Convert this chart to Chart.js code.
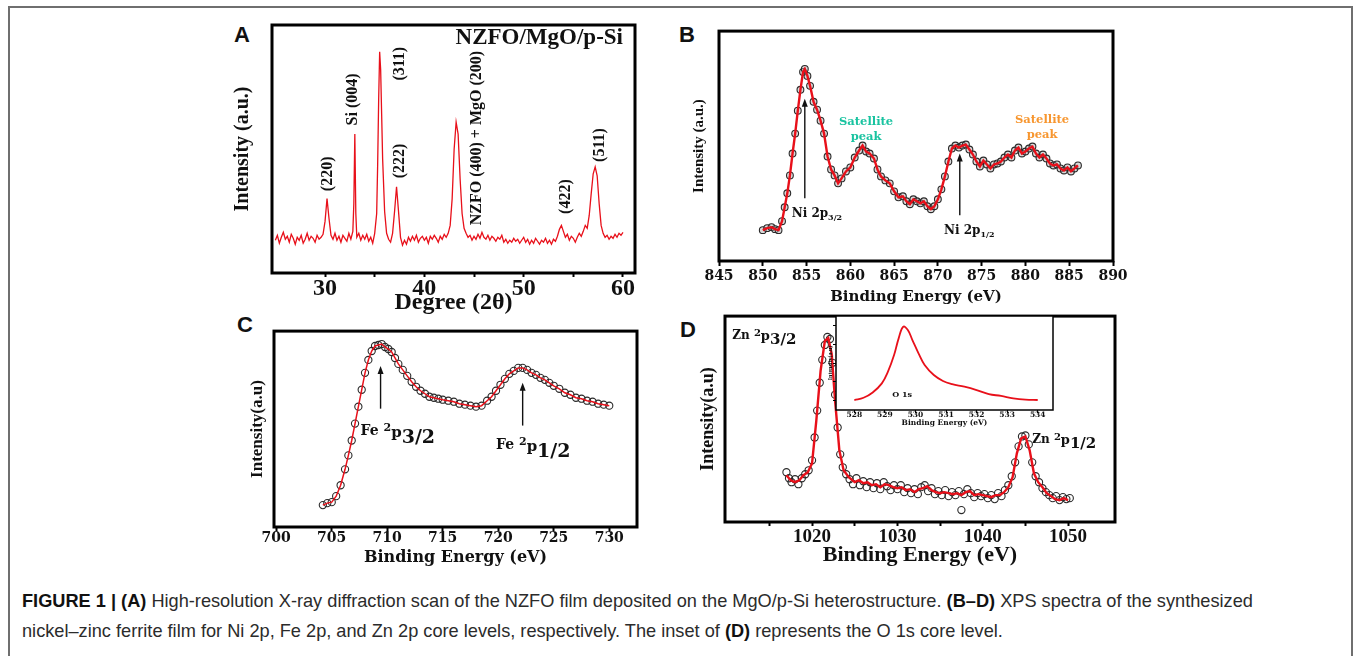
<!DOCTYPE html>
<html>
<head>
<meta charset="utf-8">
<title>NZFO XRD and XPS</title>
<script src="https://cdn.jsdelivr.net/npm/chart.js@4.4.1/dist/chart.umd.min.js"></script>
<style>
  html, body { margin: 0; padding: 0; background: #fff; }
  body { width: 1354px; height: 656px; position: relative; overflow: hidden; }
  .frame { position: absolute; left: 8px; top: 6px; width: 1345px; height: 720px;
           border: 2px solid #6f6f6f; box-sizing: border-box; }
  .panel { position: absolute; }
  .letter { position: absolute; font: bold 22px/1 "Liberation Sans", Arial, sans-serif; color: #111; }
  .caption { position: absolute; left: 22px; top: 586px; width: 1325px; white-space: nowrap;
             font: 18.2px/30px "Liberation Sans", Arial, sans-serif; color: #2b2b2b; }
  .caption b { color: #111; }
</style>
</head>
<body>
<div class="frame"></div>
<div class="letter" style="left:234px;top:24px">A</div>
<div class="letter" style="left:679px;top:24px">B</div>
<div class="letter" style="left:237px;top:314px">C</div>
<div class="letter" style="left:680px;top:319px">D</div>
<div class="caption"><b>FIGURE 1 | (A)</b> High-resolution X-ray diffraction scan of the NZFO film deposited on the MgO/p-Si heterostructure. <b>(B–D)</b> XPS spectra of the synthesized<br>nickel–zinc ferrite film for Ni 2p, Fe 2p, and Zn 2p core levels, respectively. The inset of <b>(D)</b> represents the O 1s core level.</div>

<script>
// (A) XRD scan, 2-theta in degrees vs counts (a.u.)
const xrdTheta = [
  25.0, 25.2, 25.4, 25.6, 25.8, 26.0, 26.2, 26.4, 26.6, 26.8,
  27.0, 27.2, 27.4, 27.6, 27.8, 28.0, 28.2, 28.4, 28.6, 28.8,
  29.0, 29.2, 29.4, 29.6, 29.8, 30.0, 30.2, 30.4, 30.6, 30.8,
  31.0, 31.2, 31.4, 31.6, 31.8, 32.0, 32.2, 32.4, 32.6, 32.8,
  32.9, 33.0, 33.1, 33.2, 33.4, 33.6, 33.8, 34.0, 34.2, 34.4,
  34.6, 34.8, 35.0, 35.2, 35.3, 35.4, 35.5, 35.6, 35.7, 35.8,
  36.0, 36.2, 36.4, 36.6, 36.8, 37.0, 37.2, 37.4, 37.6, 37.8,
  38.0, 38.2, 38.4, 38.6, 38.8, 39.0, 39.2, 39.4, 39.6, 39.8,
  40.0, 40.2, 40.4, 40.6, 40.8, 41.0, 41.2, 41.4, 41.6, 41.8,
  42.0, 42.2, 42.4, 42.6, 42.8, 43.0, 43.2, 43.4, 43.6, 43.8,
  44.0, 44.2, 44.4, 44.6, 44.8, 45.0, 45.2, 45.4, 45.6, 45.8,
  46.0, 46.2, 46.4, 46.6, 46.8, 47.0, 47.2, 47.4, 47.6, 47.8,
  48.0, 48.2, 48.4, 48.6, 48.8, 49.0, 49.2, 49.4, 49.6, 49.8,
  50.0, 50.2, 50.4, 50.6, 50.8, 51.0, 51.2, 51.4, 51.6, 51.8,
  52.0, 52.2, 52.4, 52.6, 52.8, 53.0, 53.2, 53.4, 53.6, 53.8,
  54.0, 54.2, 54.4, 54.6, 54.8, 55.0, 55.2, 55.4, 55.6, 55.8,
  56.0, 56.2, 56.4, 56.6, 56.8, 57.0, 57.2, 57.4, 57.6, 57.8,
  58.0, 58.2, 58.4, 58.6, 58.8, 59.0, 59.2, 59.4, 59.6, 59.8,
  60.0
];
const xrdCounts = [
  33, 38, 30, 36, 41, 34, 37, 31, 39, 35,
  29, 36, 33, 38, 30, 34, 40, 33, 37, 35,
  31, 38, 34, 36, 39, 52, 75, 55, 38, 34,
  40, 33, 37, 31, 38, 35, 32, 40, 34, 42,
  70, 140, 60, 36, 40, 33, 38, 34, 39, 32,
  36, 30, 40, 60, 110, 175, 223, 205, 160, 115,
  62, 40, 34, 31, 40, 62, 87, 62, 36, 28,
  33, 29, 36, 32, 37, 33, 38, 31, 35, 37,
  33, 36, 30, 37, 34, 38, 35, 31, 37, 34,
  39, 36, 40, 48, 75, 125, 152, 140, 95, 60,
  45, 40, 36, 38, 33, 37, 34, 39, 35, 41,
  36, 34, 38, 33, 37, 35, 32, 36, 34, 38,
  31, 34, 30, 33, 31, 35, 32, 34, 30, 33,
  36, 31, 34, 29, 33, 30, 35, 32, 29, 33,
  31, 35, 30, 33, 29, 34, 32, 37, 44, 48,
  42, 36, 39, 33, 37, 35, 31, 36, 40, 37,
  42, 48, 45, 58, 80, 100, 107, 98, 70, 48,
  40, 36, 38, 34, 37, 35, 39, 36, 40, 38,
  41
];
const xrdPeakLabels = ['(220)', 'Si (004)', '(311)', '(222)', 'NZFO (400) + MgO (200)', '(422)', '(511)'];
const xrdLabelTheta = [30.3, 32.8, 37.55, 37.55, 45.3, 54.2, 57.7];
const xrdLabelLevel = [100, 175, 211, 113, 136, 77, 129];

// (B) Ni 2p spectrum
const niEnergy = [
  850.0, 850.5, 851.0, 851.4, 851.8, 852.2, 852.5, 852.8, 853.1, 853.4,
  853.7, 854.0, 854.3, 854.6, 854.8, 855.1, 855.4, 855.8, 856.2, 856.6,
  857.0, 857.4, 857.8, 858.2, 858.6, 859.0, 859.5, 860.0, 860.5, 861.0,
  861.4, 861.8, 862.2, 862.7, 863.1, 863.5, 864.0, 864.5, 865.0, 865.5,
  866.0, 866.4, 866.8, 867.2, 867.6, 868.0, 868.4, 868.8, 869.2, 869.6,
  870.0, 870.4, 870.8, 871.2, 871.6, 872.0, 872.4, 872.8, 873.2, 873.6,
  874.0, 874.4, 874.8, 875.2, 875.6, 876.0, 876.4, 876.8, 877.2, 877.6,
  878.0, 878.4, 878.8, 879.2, 879.6, 880.0, 880.4, 880.8, 881.2, 881.6,
  882.0, 882.4, 882.8, 883.2, 883.6, 884.0, 884.4, 884.8, 885.2, 885.6,
  886.0
];
const niCounts = [
  31, 33, 34, 32, 31, 40, 54, 68, 86, 108,
  128, 151, 172, 190, 193, 186, 176, 160, 152, 141,
  128, 105, 92, 86, 78, 83, 90, 94, 104, 111,
  116, 110, 108, 103, 92, 85, 81, 78, 70, 64,
  65, 60, 57, 62, 60, 58, 60, 55, 52, 55,
  62, 72, 85, 100, 113, 116, 114, 116, 117, 112,
  107, 100, 95, 101, 97, 93, 97, 98, 100, 104,
  107, 104, 111, 114, 108, 110, 113, 115, 108, 104,
  107, 103, 98, 96, 97, 93, 91, 94, 90, 93,
  96
];

// (C) Fe 2p spectrum
const feEnergy = [
  704.2, 704.6, 705.0, 705.4, 705.8, 706.2, 706.5, 706.8, 707.1, 707.4,
  707.7, 708.0, 708.3, 708.6, 708.9, 709.2, 709.5, 709.8, 710.1, 710.4,
  710.7, 711.0, 711.4, 711.8, 712.2, 712.6, 713.0, 713.4, 713.8, 714.2,
  714.6, 715.0, 715.5, 716.0, 716.5, 717.0, 717.5, 718.0, 718.5, 719.0,
  719.4, 719.8, 720.2, 720.6, 721.0, 721.4, 721.8, 722.2, 722.6, 723.0,
  723.4, 723.8, 724.2, 724.6, 725.0, 725.5, 726.0, 726.5, 727.0, 727.5,
  728.0, 728.5, 729.0, 729.5, 730.0
];
const feCounts = [
  22, 24, 25, 31, 42, 58, 72, 87, 104, 121,
  138, 155, 168, 177, 182, 183, 184, 181, 179, 176,
  170, 164, 158, 152, 146, 141, 137, 134, 131, 130,
  129, 128, 127, 126, 124, 123, 122, 121, 122, 127,
  131, 137, 143, 149, 154, 157, 160, 160, 158, 155,
  153, 150, 148, 145, 142, 139, 135, 133, 130, 129,
  127, 126, 124, 123, 122
];

// (D) Zn 2p spectrum: measured points and fitted envelope
const znEnergy = [
  1017.0, 1017.3, 1017.6, 1018.0, 1018.4, 1018.8, 1019.2, 1019.6, 1020.0, 1020.3,
  1020.6, 1020.9, 1021.2, 1021.5, 1021.8, 1022.1, 1022.4, 1022.7, 1023.0, 1023.3,
  1023.6, 1024.0, 1024.4, 1024.8, 1025.2, 1025.6, 1026.0, 1026.4, 1026.8, 1027.2,
  1027.6, 1028.0, 1028.4, 1028.8, 1029.2, 1029.6, 1030.0, 1030.4, 1030.8, 1031.2,
  1031.6, 1032.0, 1032.4, 1032.8, 1033.2, 1033.6, 1034.0, 1034.4, 1034.8, 1035.2,
  1035.6, 1036.0, 1036.4, 1036.8, 1037.2, 1037.5, 1037.8, 1038.2, 1038.6, 1039.0,
  1039.4, 1039.8, 1040.2, 1040.6, 1041.0, 1041.4, 1041.8, 1042.2, 1042.6, 1043.0,
  1043.4, 1043.8, 1044.2, 1044.6, 1045.0, 1045.4, 1045.8, 1046.2, 1046.6, 1047.0,
  1047.4, 1047.8, 1048.2, 1048.6, 1049.0, 1049.4, 1049.8, 1050.2
];
const znCounts = [
  50, 44, 40, 43, 38, 44, 48, 52, 62, 85,
  112, 140, 163, 178, 186, 184, 160, 128, 95, 68,
  55, 48, 43, 38, 44, 37, 41, 35, 40, 34,
  39, 33, 40, 36, 32, 37, 33, 37, 30, 34,
  29, 33, 28, 35, 37, 31, 34, 28, 31, 27,
  32, 26, 30, 27, 31, 12, 28, 33, 29, 25,
  29, 26, 28, 24, 27, 23, 29, 26, 32, 37,
  46, 60, 76, 86, 87, 78, 60, 46, 40, 34,
  30, 27, 24, 26, 22, 25, 23, 24
];
const znFitEnergy = [
  1017.0, 1017.5, 1018.0, 1018.5, 1019.0, 1019.5, 1020.0, 1020.5, 1021.0, 1021.5,
  1021.9, 1022.3, 1022.7, 1023.2, 1023.7, 1024.3, 1025.0, 1025.5, 1026.0, 1026.5,
  1027.0, 1027.5, 1028.0, 1028.5, 1029.0, 1029.5, 1030.0, 1030.5, 1031.0, 1031.5,
  1032.0, 1032.5, 1033.0, 1033.5, 1034.0, 1034.5, 1035.0, 1035.5, 1036.0, 1036.5,
  1037.0, 1037.5, 1038.0, 1038.5, 1039.0, 1039.5, 1040.0, 1040.5, 1041.0, 1041.5,
  1042.0, 1042.5, 1043.0, 1043.5, 1044.0, 1044.5, 1045.0, 1045.5, 1046.0, 1046.5,
  1047.0, 1047.5, 1048.0, 1048.5, 1049.0, 1049.5, 1050.0
];
const znFitCounts = [
  47, 42, 40, 42, 47, 50, 59, 102, 152, 182,
  185, 169, 122, 72, 52, 45, 40, 42, 39, 40,
  37, 38, 35, 38, 37, 35, 34, 35, 32, 33,
  30, 33, 34, 36, 32, 30, 29, 30, 29, 28,
  29, 27, 30, 31, 27, 28, 27, 26, 25, 27,
  27, 30, 35, 45, 69, 84, 86, 72, 49, 40,
  35, 29, 26, 23, 22, 24, 22
];

// (D) inset: O 1s
const oEnergy = [528.0, 528.3, 528.6, 528.9, 529.1, 529.3, 529.45, 529.6, 529.75, 529.9,
                 530.1, 530.3, 530.6, 530.9, 531.2, 531.6, 532.0, 532.4, 532.8, 533.2, 533.6, 534.0];
const oCounts = [0.0, 0.12, 0.41, 0.90, 1.53, 2.43, 3.33, 3.96, 3.78, 3.24,
                 2.52, 1.89, 1.35, 1.03, 0.86, 0.72, 0.54, 0.32, 0.22, 0.09, 0.02, 0.0];

const xrdTicks = [30, 35, 40, 45, 50, 55, 60];
const xrdTickLabels = [30, 40, 50, 60];
const niTicks = [845, 850, 855, 860, 865, 870, 875, 880, 885, 890];
const feTicks = [700, 705, 710, 715, 720, 725, 730];
const znTicks = [1015, 1020, 1025, 1030, 1035, 1040, 1045, 1050];
const znTickLabels = [1020, 1030, 1040, 1050];
const oTicks = [528, 529, 530, 531, 532, 533, 534];
const oLevelTicks = [0, 1, 2, 3, 4];

const SERIF = '"Liberation Serif", "Times New Roman", serif';
const WIDE = '"DejaVu Serif", serif';
const RED = '#e8101a';

function pts(xs, ys) {
  return xs.map((x, i) => ({ x: x, y: ys[i] }));
}

function lineSet(xs, ys, width, tension) {
  return { data: pts(xs, ys), showLine: true, borderColor: RED, borderWidth: width,
           pointRadius: 0, tension: tension || 0, order: 0 };
}

function circleSet(xs, ys, r, fill) {
  return { data: pts(xs, ys), showLine: false, pointRadius: r, pointBorderWidth: 1.1,
           pointBorderColor: '#2a2a2a', pointBackgroundColor: fill || 'rgba(255,255,255,0)', order: 1 };
}

// heavy frame round the plot area; the inset also blanks its area first
function framePlugin(width, blank) {
  return {
    id: 'frame',
    beforeDraw(chart) {
      if (!blank) return;
      const a = chart.chartArea;
      chart.ctx.save();
      chart.ctx.fillStyle = '#fff';
      chart.ctx.fillRect(a.left, a.top, a.right - a.left, a.bottom - a.top);
      chart.ctx.restore();
    },
    afterDraw(chart) {
      const a = chart.chartArea, ctx = chart.ctx;
      ctx.save();
      ctx.strokeStyle = '#000';
      ctx.lineWidth = width;
      ctx.strokeRect(a.left, a.top, a.right - a.left, a.bottom - a.top);
      ctx.restore();
    }
  };
}

// labels and arrows placed in data coordinates
function notesPlugin(items) {
  return {
    id: 'notes',
    afterDraw(chart) {
      const sx = chart.scales.x, sy = chart.scales.y, ctx = chart.ctx;
      ctx.save();
      for (const it of items) {
        const px = sx.getPixelForValue(it.x), py = sy.getPixelForValue(it.y);
        ctx.fillStyle = it.color || '#111';
        ctx.strokeStyle = it.color || '#111';
        if (it.kind === 'arrow') {
          const top = sy.getPixelForValue(it.to);
          ctx.lineWidth = 1.4;
          ctx.beginPath();
          ctx.moveTo(px, py);
          ctx.lineTo(px, top + 6);
          ctx.stroke();
          ctx.beginPath();
          ctx.moveTo(px, top);
          ctx.lineTo(px - 3, top + 8);
          ctx.lineTo(px + 3, top + 8);
          ctx.closePath();
          ctx.fill();
        } else if (it.kind === 'vtext') {
          ctx.save();
          ctx.translate(px, py);
          ctx.rotate(-Math.PI / 2);
          ctx.font = 'bold ' + it.size + 'px ' + it.family;
          ctx.textAlign = 'center';
          ctx.textBaseline = 'middle';
          ctx.fillText(it.text, 0, 0);
          ctx.restore();
        } else if (it.kind === 'center') {
          ctx.font = 'bold ' + it.size + 'px ' + it.family;
          ctx.textAlign = it.align || 'center';
          ctx.textBaseline = 'middle';
          it.lines.forEach((t, i) => ctx.fillText(t, px, py + i * it.gap));
        } else {
          // run of text pieces on a shared baseline (sub/superscripts via dy)
          ctx.textAlign = 'left';
          ctx.textBaseline = 'alphabetic';
          let cx = px;
          for (const p of it.parts) {
            ctx.font = 'bold ' + p.size + 'px ' + it.family;
            ctx.fillText(p.t, cx, py + (p.dy || 0));
            cx += ctx.measureText(p.t).width;
          }
        }
      }
      ctx.restore();
    }
  };
}

function makePanel(cfg) {
  const a = cfg.area, p = cfg.pad;
  const holder = document.createElement('div');
  holder.className = 'panel';
  holder.style.left = (a.left - p.left) + 'px';
  holder.style.top = (a.top - p.top) + 'px';
  holder.style.width = (a.right - a.left + p.left + p.right) + 'px';
  holder.style.height = (a.bottom - a.top + p.top + p.bottom) + 'px';
  const canvas = document.createElement('canvas');
  holder.appendChild(canvas);
  document.body.appendChild(holder);

  const X = cfg.x, Y = cfg.y;
  const yScale = {
    type: 'linear', min: Y.min, max: Y.max,
    afterFit: s => { s.width = p.left; s.paddingTop = 0; s.paddingBottom = 0; },
    border: { display: false },
    grid: { display: false },
    ticks: { display: false },
    title: { display: true, text: Y.title, color: '#111', font: Y.font, padding: { top: Y.titlePad, bottom: 0 } }
  };
  if (Y.ticks) {
    yScale.afterBuildTicks = s => { s.ticks = Y.ticks.map(v => ({ value: v })); };
    yScale.grid = { display: true, drawOnChartArea: false, drawTicks: true, tickLength: 3, tickWidth: 1, tickColor: '#000', color: '#000' };
  }

  return new Chart(canvas, {
    type: 'scatter',
    data: { datasets: cfg.datasets },
    options: {
      responsive: true,
      maintainAspectRatio: false,
      animation: false,
      events: [],
      layout: { padding: { left: 0, top: p.top, right: p.right, bottom: 0 } },
      plugins: { legend: { display: false }, tooltip: { enabled: false } },
      scales: {
        x: {
          type: 'linear', position: 'bottom', min: X.min, max: X.max,
          afterBuildTicks: s => { s.ticks = X.ticks.map(v => ({ value: v })); },
          afterFit: s => { s.height = p.bottom; s.paddingLeft = 0; s.paddingRight = 0; },
          border: { display: false },
          grid: { display: true, drawOnChartArea: false, drawTicks: true, tickLength: X.tickLength,
                  tickWidth: X.tickWidth || 2, tickColor: '#000', color: '#000' },
          ticks: { autoSkip: false, maxRotation: 0, minRotation: 0, padding: X.labelPad, color: '#111', font: X.font,
                   callback: v => (X.labels.indexOf(v) >= 0 ? String(v) : '') },
          title: { display: true, text: X.title, color: '#111', font: X.titleFont, padding: { top: 0, bottom: X.titlePad } }
        },
        y: yScale
      }
    },
    plugins: [framePlugin(cfg.frame, cfg.blank), notesPlugin(cfg.notes || [])]
  });
}

// ---- (A) XRD ----
makePanel({
  area: { left: 272, top: 25, right: 635, bottom: 273 },
  pad: { left: 44, top: 4, right: 10, bottom: 44 },
  frame: 3,
  x: { min: 24.66, max: 61.21, ticks: xrdTicks, labels: xrdTickLabels, tickLength: 4, labelPad: -3,
       font: { family: SERIF, size: 24, weight: 'bold' }, title: 'Degree (2θ)',
       titleFont: { family: SERIF, size: 24, weight: 'bold' }, titlePad: 0 },
  y: { min: 0, max: 250, title: 'Intensity (a.u.)', font: { family: SERIF, size: 20, weight: 'bold' }, titlePad: 3 },
  datasets: [lineSet(xrdTheta, xrdCounts, 1.3)],
  notes: xrdPeakLabels.map((t, i) => ({ kind: 'vtext', x: xrdLabelTheta[i], y: xrdLabelLevel[i], text: t, size: 16, family: SERIF }))
    .concat([{ kind: 'center', x: 60.0, y: 237, lines: ['NZFO/MgO/p-Si'], gap: 0, size: 23, family: SERIF, align: 'right' }])
});

// ---- (B) Ni 2p ----
makePanel({
  area: { left: 719, top: 30, right: 1113, bottom: 261 },
  pad: { left: 30, top: 4, right: 22, bottom: 46 },
  frame: 3,
  x: { min: 845, max: 890, ticks: niTicks, labels: niTicks, tickLength: 5, labelPad: 1.6,
       font: { family: WIDE, size: 14, weight: 'bold' }, title: 'Binding Energy (eV)',
       titleFont: { family: WIDE, size: 15, weight: 'bold' }, titlePad: 1 },
  y: { min: 0, max: 231, title: 'Intensity (a.u.)', font: { family: SERIF, size: 15, weight: 'bold' }, titlePad: 1 },
  datasets: [lineSet(niEnergy, niCounts, 2.4), circleSet(niEnergy, niCounts, 3.4, 'rgba(170,170,170,0.45)')],
  notes: [
    { kind: 'center', x: 861.8, y: 140, lines: ['Satellite', 'peak'], gap: 15, size: 11.5, family: WIDE, color: '#19c3a0' },
    { kind: 'center', x: 881.9, y: 142, lines: ['Satellite', 'peak'], gap: 15, size: 11.5, family: WIDE, color: '#f7962f' },
    { kind: 'arrow', x: 854.8, y: 63, to: 163 },
    { kind: 'arrow', x: 872.5, y: 46, to: 108 },
    { kind: 'rich', x: 853.3, y: 44, family: WIDE, parts: [{ t: 'Ni 2p', size: 12 }, { t: '3/2', size: 8, dy: 3 }] },
    { kind: 'rich', x: 870.7, y: 27, family: WIDE, parts: [{ t: 'Ni 2p', size: 12 }, { t: '1/2', size: 8, dy: 3 }] }
  ]
});

// ---- (C) Fe 2p ----
makePanel({
  area: { left: 274, top: 330, right: 637, bottom: 527 },
  pad: { left: 28, top: 4, right: 10, bottom: 42 },
  frame: 3,
  x: { min: 699.8, max: 732.5, ticks: feTicks, labels: feTicks, tickLength: 4, labelPad: -1.4,
       font: { family: WIDE, size: 14, weight: 'bold' }, title: 'Binding Energy (eV)',
       titleFont: { family: WIDE, size: 16, weight: 'bold' }, titlePad: 1.4 },
  y: { min: 0, max: 197, title: 'Intensity(a.u)', font: { family: SERIF, size: 17, weight: 'bold' }, titlePad: 1.8 },
  datasets: [lineSet(feEnergy, feCounts, 1.5), circleSet(feEnergy, feCounts, 3.6)],
  notes: [
    { kind: 'arrow', x: 709.4, y: 119, to: 162 },
    { kind: 'arrow', x: 722.2, y: 102, to: 145 },
    { kind: 'rich', x: 707.6, y: 93, family: WIDE, parts: [{ t: 'Fe ', size: 14 }, { t: '2', size: 11, dy: -4 }, { t: 'p', size: 15, dy: 2 }, { t: '3/2', size: 19, dy: 8 }] },
    { kind: 'rich', x: 719.8, y: 78, family: WIDE, parts: [{ t: 'Fe ', size: 14 }, { t: '2', size: 11, dy: -4 }, { t: 'p', size: 15, dy: 2 }, { t: '1/2', size: 19, dy: 8 }] }
  ]
});

// ---- (D) Zn 2p ----
makePanel({
  area: { left: 725, top: 315, right: 1115, bottom: 522 },
  pad: { left: 28, top: 4, right: 10, bottom: 47 },
  frame: 3,
  x: { min: 1009.8, max: 1055.5, ticks: znTicks, labels: znTickLabels, tickLength: 4, labelPad: 0,
       font: { family: SERIF, size: 19, weight: 'bold' }, title: 'Binding Energy (eV)',
       titleFont: { family: SERIF, size: 22, weight: 'bold' }, titlePad: 0.8 },
  y: { min: 0, max: 207, title: 'Intensity(a.u)', font: { family: SERIF, size: 18, weight: 'bold' }, titlePad: 0.2 },
  datasets: [lineSet(znFitEnergy, znFitCounts, 2.4), circleSet(znEnergy, znCounts, 3.6)],
  notes: [
    { kind: 'rich', x: 1010.65, y: 184, family: WIDE, parts: [{ t: 'Zn ', size: 12 }, { t: '2', size: 10, dy: -3 }, { t: 'p', size: 13, dy: 1 }, { t: '3/2', size: 15, dy: 5 }] },
    { kind: 'rich', x: 1045.8, y: 79, family: WIDE, parts: [{ t: 'Zn ', size: 12 }, { t: '2', size: 10, dy: -3 }, { t: 'p', size: 13, dy: 1 }, { t: '1/2', size: 15, dy: 5 }] }
  ]
});

// ---- (D) inset: O 1s ----
makePanel({
  area: { left: 836, top: 316, right: 1053, bottom: 410 },
  pad: { left: 12, top: 4, right: 8, bottom: 18 },
  frame: 1.5,
  blank: true,
  x: { min: 527.4, max: 534.5, ticks: oTicks, labels: oTicks, tickLength: 3, tickWidth: 1, labelPad: -2.5,
       font: { family: WIDE, size: 7.5, weight: 'bold' }, title: 'Binding Energy (eV)',
       titleFont: { family: WIDE, size: 7.5, weight: 'bold' }, titlePad: 0.5 },
  y: { min: -0.54, max: 4.54, ticks: oLevelTicks, title: 'Intensity(a.u)', font: { family: SERIF, size: 6, weight: 'bold' }, titlePad: 2.4 },
  datasets: [lineSet(oEnergy, oCounts, 1.8, 0.4)],
  notes: [
    { kind: 'center', x: 529.24, y: 0.27, lines: ['O 1s'], gap: 0, size: 8, family: WIDE, align: 'left' }
  ]
});
</script>
</body>
</html>
